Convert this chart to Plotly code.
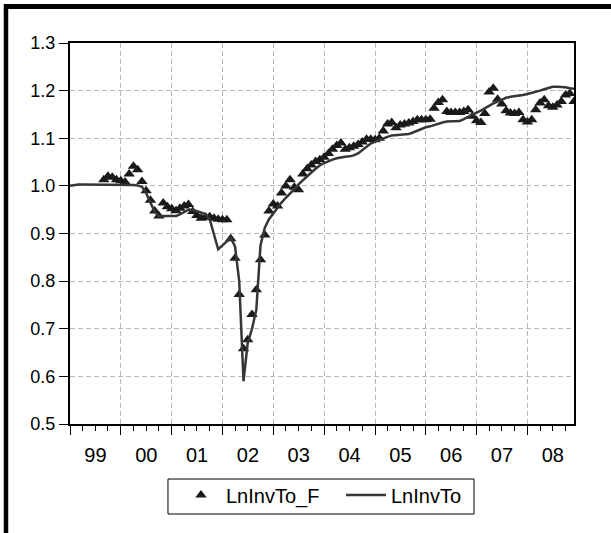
import pandas as pd
import plotly.graph_objects as go

# Monthly sample 1999m01 - 2008m12
months = pd.date_range("1999-01-01", periods=120, freq="MS")

# Actual series (LnInvTo), one value per month
ln_inv_to = [
    1.000, 1.002, 1.003, 1.003, 1.003, 1.003, 1.003, 1.003, 1.003, 1.003, 1.003, 1.003,
    1.003, 1.003, 1.002, 1.002, 1.001, 0.998, 0.985, 0.965, 0.945, 0.937, 0.937, 0.937,
    0.937, 0.937, 0.940, 0.945, 0.950, 0.950, 0.947, 0.944, 0.941, 0.930, 0.900, 0.867,
    0.875, 0.883, 0.891, 0.873, 0.800, 0.590, 0.670, 0.700, 0.740, 0.875, 0.912, 0.930,
    0.943, 0.955, 0.965, 0.975, 0.983, 0.993, 1.003, 1.012, 1.020, 1.028, 1.036, 1.043,
    1.048, 1.052, 1.055, 1.058, 1.060, 1.061, 1.062, 1.064, 1.068, 1.075, 1.082, 1.089,
    1.093, 1.097, 1.100, 1.103, 1.106, 1.107, 1.108, 1.109, 1.109, 1.112, 1.116, 1.120,
    1.123, 1.125, 1.128, 1.131, 1.133, 1.135, 1.135, 1.136, 1.136, 1.140, 1.145, 1.150,
    1.154, 1.158, 1.163, 1.168, 1.173, 1.177, 1.181, 1.185, 1.187, 1.188, 1.189, 1.191,
    1.193, 1.195, 1.197, 1.200, 1.203, 1.206, 1.208, 1.208, 1.208, 1.207, 1.205, 1.204,
]

# Fitted series (LnInvTo_F), available from 1999m09
fit_start = 8
ln_inv_to_f = [
    1.013, 1.020, 1.018, 1.013,
    1.011, 1.008, 1.025, 1.041, 1.034, 1.009, 0.990, 0.970, 0.947, 0.937, 0.964, 0.956,
    0.952, 0.948, 0.953, 0.958, 0.961, 0.946, 0.938, 0.932, 0.934, 0.935, 0.932, 0.930,
    0.929, 0.929, 0.889, 0.848, 0.772, 0.658, 0.677, 0.730, 0.782, 0.845, 0.897, 0.947,
    0.962, 0.958, 0.985, 1.000, 1.013, 0.997, 0.992, 1.025, 1.036, 1.044, 1.051, 1.055,
    1.060, 1.068, 1.077, 1.085, 1.090, 1.077, 1.080, 1.083, 1.087, 1.092, 1.098, 1.098,
    1.097, 1.100, 1.115, 1.130, 1.133, 1.122, 1.128, 1.130, 1.132, 1.135, 1.139, 1.139,
    1.139, 1.140, 1.163, 1.175, 1.181, 1.156, 1.154, 1.154, 1.154, 1.156, 1.160, 1.146,
    1.137, 1.133, 1.152, 1.197, 1.205, 1.182, 1.172, 1.158, 1.153, 1.152, 1.154, 1.139,
    1.134, 1.139, 1.160, 1.174, 1.181, 1.168, 1.165, 1.170, 1.177, 1.191, 1.194, 1.177,
]

y_ticks = [0.5, 0.6, 0.7, 0.8, 0.9, 1.0, 1.1, 1.2, 1.3]

FONT = "Liberation Sans, Arial, sans-serif"
GRID = "#b8b8b8"
GRID_DASH = "5px,3px"

fig = go.Figure()
fig.add_trace(go.Scatter(
    x=months[fit_start:], y=ln_inv_to_f, name="LnInvTo_F",
    mode="markers",
    marker=dict(symbol="triangle-up", size=10, color="#1a1a1a", line=dict(width=0)),
))
fig.add_trace(go.Scatter(
    x=months, y=ln_inv_to, name="LnInvTo",
    mode="lines",
    line=dict(color="#363636", width=2.5),
))

fig.update_xaxes(
    type="date",
    range=[months[0], months[-1]],
    tick0="1999-01-01", dtick="M12", tickformat="%y",
    ticklabelmode="period",
    ticks="outside", ticklen=9, tickwidth=1.2, tickcolor="black",
    ticklabelstandoff=3,
    showgrid=True, gridcolor=GRID, griddash=GRID_DASH, gridwidth=1,
    minor=dict(dtick="M3", tick0="1999-01-01", ticks="outside", ticklen=5,
               tickwidth=1.2, tickcolor="black", showgrid=False),
    showline=True, linecolor="black", linewidth=2, mirror=True,
    zeroline=False,
    tickfont=dict(family=FONT, size=20, color="black"),
)
fig.update_yaxes(
    range=[0.5, 1.3],
    tickvals=y_ticks, tickformat=".1f",
    ticks="outside", ticklen=9, tickwidth=1.2, tickcolor="black",
    showgrid=True, gridcolor=GRID, griddash=GRID_DASH, gridwidth=1,
    showline=True, linecolor="black", linewidth=2, mirror=True,
    zeroline=False,
    tickfont=dict(family=FONT, size=18, color="black"),
)

# outer frame: heavy rules along the top and the left of the page
fig.add_shape(type="line", xref="paper", yref="paper",
              x0=-0.131, x1=1.12, y0=1.0958, y1=1.0958,
              line=dict(color="black", width=5))
fig.add_shape(type="line", xref="paper", yref="paper",
              x0=-0.127, x1=-0.127, y0=1.102, y1=-0.32,
              line=dict(color="black", width=4.5))

# box around the legend entries
fig.add_shape(type="rect", xref="paper", yref="paper",
              x0=0.1944, x1=0.8016, y0=-0.2362, y1=-0.1444,
              line=dict(color="black", width=1), fillcolor="rgba(0,0,0,0)")

fig.update_layout(
    width=611, height=533,
    margin=dict(l=70, r=37, t=43, b=109),
    paper_bgcolor="white", plot_bgcolor="white",
    font=dict(family=FONT, color="black"),
    showlegend=True,
    legend=dict(
        orientation="h", x=0.2103, xanchor="left", y=-0.1352, yanchor="top",
        borderwidth=0, bgcolor="rgba(0,0,0,0)",
        itemwidth=40, entrywidth=110,
        font=dict(family=FONT, size=20, color="black"),
    ),
)

fig.write_html("out.html")
